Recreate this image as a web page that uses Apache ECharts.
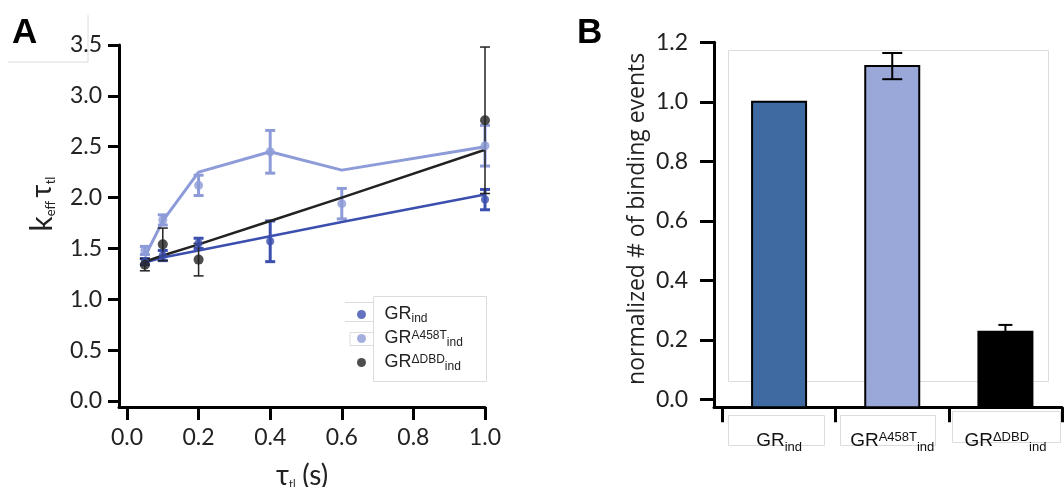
<!DOCTYPE html>
<html>
<head>
<meta charset="utf-8">
<script src="https://cdn.jsdelivr.net/npm/echarts@6/dist/echarts.min.js"></script>
<style>
html,body{margin:0;padding:0;background:#fff;}
#chart{width:1064px;height:487px;}
</style>
</head>
<body>
<div id="chart"></div>
<script>
// ---------- Panel A data ----------
const tauValues = [0.05, 0.1, 0.2, 0.4, 0.6, 1.0];
const grIndPoints = [1.37, 1.43, 1.55, 1.57, null, 1.98];
const grIndErr = [0.03, 0.05, 0.05, 0.20, null, 0.10];
const grIndFit = [1.36, 1.41, 1.48, 1.62, 1.76, 2.03];
const grA458TPoints = [1.48, 1.78, 2.12, 2.45, 1.94, 2.51];
const grA458TErr = [0.04, 0.05, 0.10, 0.21, 0.15, 0.20];
const grA458TFit = [1.42, 1.77, 2.25, 2.45, 2.27, 2.50];
const grDBDPoints = [1.34, 1.54, 1.39, null, null, 2.76];
const grDBDErr = [0.06, 0.16, 0.16, null, null, 0.72];
const grDBDFit = [1.37, 1.43, 1.54, 1.77, 2.00, 2.47];
const yTicksA = [0, 0.5, 1.0, 1.5, 2.0, 2.5, 3.0, 3.5];
const xTicksA = [0, 0.2, 0.4, 0.6, 0.8, 1.0];
const legendNames = ['GR_ind', 'GR_A458T_ind', 'GR_DBD_ind'];

// ---------- Panel B data ----------
const barCategories = ['GR_ind', 'GR_A458T_ind', 'GR_DBD_ind'];
const barValues = [1.0, 1.12, 0.227];
const barErr = [0, 0.044, 0.023];
const barErrUpperOnly = [0, 0, 1];
const yTicksB = [0, 0.2, 0.4, 0.6, 0.8, 1.0, 1.2];

const C_DARK = '#3b4fae', C_LIGHT = '#8d9bd8', C_BLACK = '#222222';
const BAR_COLORS = ['#3e6aa1', '#99a8d9', '#000000'];
const FONT = 'Lato';
const Y_MIN_B = -0.0269;   // panel B value-axis minimum (offset axis, bars start at axis line)

const richName = {
  'GR_ind': '{b|GR}{s|ind}',
  'GR_A458T_ind': '{b|GR}{p|A458T}{s|ind}',
  'GR_DBD_ind': '{b|GR}{p|ΔDBD}{s|ind}'
};

function pairs(xs, ys) {
  const out = [];
  xs.forEach((x, i) => { if (ys[i] != null) out.push([x, ys[i]]); });
  return out;
}
function errTriples(xs, ys, es) {
  const out = [];
  xs.forEach((x, i) => { if (ys[i] != null && es[i] != null) out.push([x, ys[i], es[i], 0]); });
  return out;
}
function errRender(color, lw, capHalf) {
  return function (params, api) {
    const x = api.value(0), y = api.value(1), e = api.value(2);
    const lo = api.coord([x, y - e]);
    const hi = api.coord([x, y + e]);
    const st = { stroke: color, lineWidth: lw };
    return { type: 'group', children: [
      { type: 'line', shape: { x1: lo[0], y1: lo[1], x2: hi[0], y2: hi[1] }, style: st },
      { type: 'line', shape: { x1: hi[0] - capHalf, y1: hi[1], x2: hi[0] + capHalf, y2: hi[1] }, style: st },
      { type: 'line', shape: { x1: lo[0] - capHalf, y1: lo[1], x2: lo[0] + capHalf, y2: lo[1] }, style: st }
    ] };
  };
}
// bars (from the axis line) and their error bars, placed through the axes' scales
function barRender(params, api) {
  const x = api.value(0), v = api.value(1), e = api.value(2), upperOnly = api.value(3) === 1;
  const base = api.coord([x, Y_MIN_B]);
  const top = api.coord([x, v]);
  const halfW = 27;
  const children = [{
    type: 'rect',
    shape: { x: top[0] - halfW, y: top[1], width: halfW * 2, height: base[1] - top[1] },
    style: { fill: BAR_COLORS[params.dataIndex], stroke: '#000', lineWidth: 2 }
  }];
  if (e > 0) {
    const capHalf = upperOnly ? 7 : 10;
    const lo = api.coord([x, upperOnly ? v : v - e]);
    const hi = api.coord([x, v + e]);
    const st = { stroke: '#000', lineWidth: 2 };
    children.push({ type: 'line', shape: { x1: lo[0], y1: lo[1], x2: hi[0], y2: hi[1] }, style: st });
    children.push({ type: 'line', shape: { x1: hi[0] - capHalf, y1: hi[1], x2: hi[0] + capHalf, y2: hi[1] }, style: st });
    if (!upperOnly) children.push({ type: 'line', shape: { x1: lo[0] - capHalf, y1: lo[1], x2: lo[0] + capHalf, y2: lo[1] }, style: st });
  }
  return { type: 'group', children: children };
}

const axisLineStyle = { color: '#000', width: 3 };
const tickLabelStyle = { fontFamily: FONT, fontSize: 23, color: '#222' };

const chart = echarts.init(document.getElementById('chart'), null, { renderer: 'canvas' });

const option = {
  animation: false,
  backgroundColor: '#fff',
  grid: [
    { left: 119, top: 45, width: 366, height: 362, outerBoundsMode: 'none', containLabel: false },
    { left: 714, top: 42.3, width: 348, height: 365, outerBoundsMode: 'none', containLabel: false }
  ],
  xAxis: [
    {
      gridIndex: 0, type: 'value', min: -0.0223, max: 1.0,
      axisLine: { onZero: false, lineStyle: axisLineStyle },
      axisTick: { show: true, length: 13, lineStyle: { width: 3, color: '#000' }, customValues: xTicksA },
      axisLabel: { customValues: xTicksA, margin: 19, formatter: v => v.toFixed(1), ...tickLabelStyle },
      splitLine: { show: false },
      name: '{t|τ}{s|tl}  {u|(s)}', nameLocation: 'middle', nameGap: 55,
      nameTextStyle: {
        rich: {
          t: { fontFamily: FONT, fontSize: 28, color: '#222' },
          s: { fontFamily: FONT, fontSize: 11, color: '#222', verticalAlign: 'bottom', padding: [14, 0, 0, 0] },
          u: { fontFamily: FONT, fontSize: 28, color: '#222' }
        }
      }
    },
    {
      gridIndex: 1, type: 'value', min: -0.575, max: 2.5,
      axisLine: { onZero: false, lineStyle: axisLineStyle },
      axisTick: { show: true, length: 15, lineStyle: { width: 3, color: '#000' }, customValues: [-0.5, 0.5, 1.5, 2.5] },
      axisLabel: {
        customValues: [0, 1, 2], margin: 19,
        formatter: v => richName[barCategories[Math.round(v)]],
        rich: {
          b: { fontFamily: 'Liberation Sans', fontSize: 19, color: '#111', lineHeight: 28, verticalAlign: 'middle' },
          p: { fontFamily: 'Liberation Sans', fontSize: 13, color: '#111', verticalAlign: 'top', lineHeight: 28, padding: [5, 0, 0, 0] },
          s: { fontFamily: 'Liberation Sans', fontSize: 13, color: '#111', verticalAlign: 'bottom', lineHeight: 28, padding: [10, 0, 0, 0] }
        }
      },
      splitLine: { show: false }
    }
  ],
  yAxis: [
    {
      gridIndex: 0, type: 'value', min: -0.059, max: 3.5,
      axisLine: { show: true, onZero: false, lineStyle: axisLineStyle },
      axisTick: { show: true, length: 11, lineStyle: { width: 3, color: '#000' }, customValues: yTicksA },
      axisLabel: { customValues: yTicksA, margin: 17, formatter: v => v.toFixed(1), ...tickLabelStyle },
      splitLine: { show: false },
      name: '{k|k}{s|eff} {t|τ}{s|tl}', nameLocation: 'middle', nameGap: 62, nameRotate: 90,
      nameTextStyle: {
        padding: [0, 0, 0, 44],
        rich: {
          k: { fontFamily: FONT, fontSize: 30, color: '#222' },
          t: { fontFamily: FONT, fontSize: 28, color: '#222' },
          s: { fontFamily: FONT, fontSize: 13, color: '#222', verticalAlign: 'bottom', padding: [14, 0, 0, 0] }
        }
      }
    },
    {
      gridIndex: 1, type: 'value', min: Y_MIN_B, max: 1.2,
      axisLine: { show: true, onZero: false, lineStyle: axisLineStyle },
      axisTick: { show: true, length: 14, lineStyle: { width: 3, color: '#000' }, customValues: yTicksB },
      axisLabel: { customValues: yTicksB, margin: 26, formatter: v => v.toFixed(1), ...tickLabelStyle },
      splitLine: { show: false },
      name: 'normalized # of binding events', nameLocation: 'middle', nameGap: 65, nameRotate: 90,
      nameTextStyle: { fontFamily: 'Open Sans', fontSize: 23, color: '#222', padding: [0, 0, 0, 12] }
    }
  ],
  legend: {
    data: legendNames, orient: 'vertical', left: 352, top: 300,
    icon: 'circle', itemWidth: 20, itemHeight: 9, itemGap: 3,
    formatter: n => richName[n],
    textStyle: {
      padding: [0, 0, 0, 8],
      rich: {
        b: { fontFamily: 'Liberation Sans', fontSize: 18, color: '#222', lineHeight: 21 },
        p: { fontFamily: 'Liberation Sans', fontSize: 12, color: '#222', verticalAlign: 'top', lineHeight: 21, padding: [2, 0, 0, 0] },
        s: { fontFamily: 'Liberation Sans', fontSize: 12, color: '#222', verticalAlign: 'bottom', lineHeight: 21, padding: [8, 0, 0, 0] }
      }
    }
  },
  graphic: [
    { type: 'text', left: 12, top: 16, style: { text: 'A', font: 'bold 35px "Liberation Sans"', fill: '#000' } },
    { type: 'text', left: 577, top: 16, style: { text: 'B', font: 'bold 35px "Liberation Sans"', fill: '#000' } },
    { type: 'polyline', shape: { points: [[8, 62], [88, 62], [88, 15]] }, style: { stroke: '#dcdcdc', lineWidth: 1, fill: null }, z: -1 },
    { type: 'rect', shape: { x: 373.5, y: 296.5, width: 113, height: 85 }, style: { stroke: '#dcdcdc', fill: null, lineWidth: 1 }, z: -1 },
    { type: 'polyline', shape: { points: [[345, 302.5], [373, 302.5]] }, style: { stroke: '#dcdcdc', lineWidth: 1 }, z: -1 },
    { type: 'polyline', shape: { points: [[345, 321.5], [373, 321.5]] }, style: { stroke: '#dcdcdc', lineWidth: 1 }, z: -1 },
    { type: 'polyline', shape: { points: [[350, 332.5], [373, 332.5]] }, style: { stroke: '#dcdcdc', lineWidth: 1 }, z: -1 },
    { type: 'polyline', shape: { points: [[350, 345.5], [373, 345.5]] }, style: { stroke: '#dcdcdc', lineWidth: 1 }, z: -1 },
    { type: 'polyline', shape: { points: [[350, 332.5], [350, 345.5]] }, style: { stroke: '#dcdcdc', lineWidth: 1 }, z: -1 },
    { type: 'rect', shape: { x: 728.5, y: 50.5, width: 320, height: 331 }, style: { stroke: '#dcdcdc', fill: null, lineWidth: 1 }, z: -1 },
    { type: 'rect', shape: { x: 728.5, y: 415.5, width: 96, height: 30 }, style: { stroke: '#dcdcdc', fill: null, lineWidth: 1 }, z: -1 },
    { type: 'rect', shape: { x: 840.5, y: 415.5, width: 95, height: 30 }, style: { stroke: '#dcdcdc', fill: null, lineWidth: 1 }, z: -1 },
    { type: 'rect', shape: { x: 952.5, y: 411.5, width: 108, height: 31 }, style: { stroke: '#dcdcdc', fill: null, lineWidth: 1 }, z: -1 }
  ],
  series: [
    { type: 'line', xAxisIndex: 0, yAxisIndex: 0, data: pairs(tauValues, grA458TFit), showSymbol: false, lineStyle: { color: C_LIGHT, width: 3 }, z: 2, silent: true },
    { type: 'line', xAxisIndex: 0, yAxisIndex: 0, data: pairs(tauValues, grIndFit), showSymbol: false, lineStyle: { color: C_DARK, width: 2.5 }, z: 3, silent: true },
    { type: 'line', xAxisIndex: 0, yAxisIndex: 0, data: pairs(tauValues, grDBDFit), showSymbol: false, lineStyle: { color: C_BLACK, width: 2.5 }, z: 4, silent: true },
    { type: 'custom', xAxisIndex: 0, yAxisIndex: 0, data: errTriples(tauValues, grA458TPoints, grA458TErr), renderItem: errRender(C_LIGHT, 3, 5), z: 2 },
    { type: 'custom', xAxisIndex: 0, yAxisIndex: 0, data: errTriples(tauValues, grIndPoints, grIndErr), renderItem: errRender(C_DARK, 3, 5), z: 3 },
    { type: 'custom', xAxisIndex: 0, yAxisIndex: 0, data: errTriples(tauValues, grDBDPoints, grDBDErr), renderItem: errRender(C_BLACK, 1.5, 5), z: 5 },
    { name: 'GR_A458T_ind', type: 'scatter', xAxisIndex: 0, yAxisIndex: 0, data: pairs(tauValues, grA458TPoints), symbolSize: 9, itemStyle: { color: C_LIGHT }, z: 6 },
    { name: 'GR_ind', type: 'scatter', xAxisIndex: 0, yAxisIndex: 0, data: pairs(tauValues, grIndPoints), symbolSize: 8, itemStyle: { color: C_DARK }, z: 6 },
    { name: 'GR_DBD_ind', type: 'scatter', xAxisIndex: 0, yAxisIndex: 0, data: pairs(tauValues, grDBDPoints), symbolSize: 10, itemStyle: { color: C_BLACK }, z: 7 },
    {
      type: 'custom', xAxisIndex: 1, yAxisIndex: 1,
      data: barValues.map((v, i) => [i, v, barErr[i], barErrUpperOnly[i]]),
      renderItem: barRender, z: 3
    }
  ]
};
chart.setOption(option);
</script>
</body>
</html>
